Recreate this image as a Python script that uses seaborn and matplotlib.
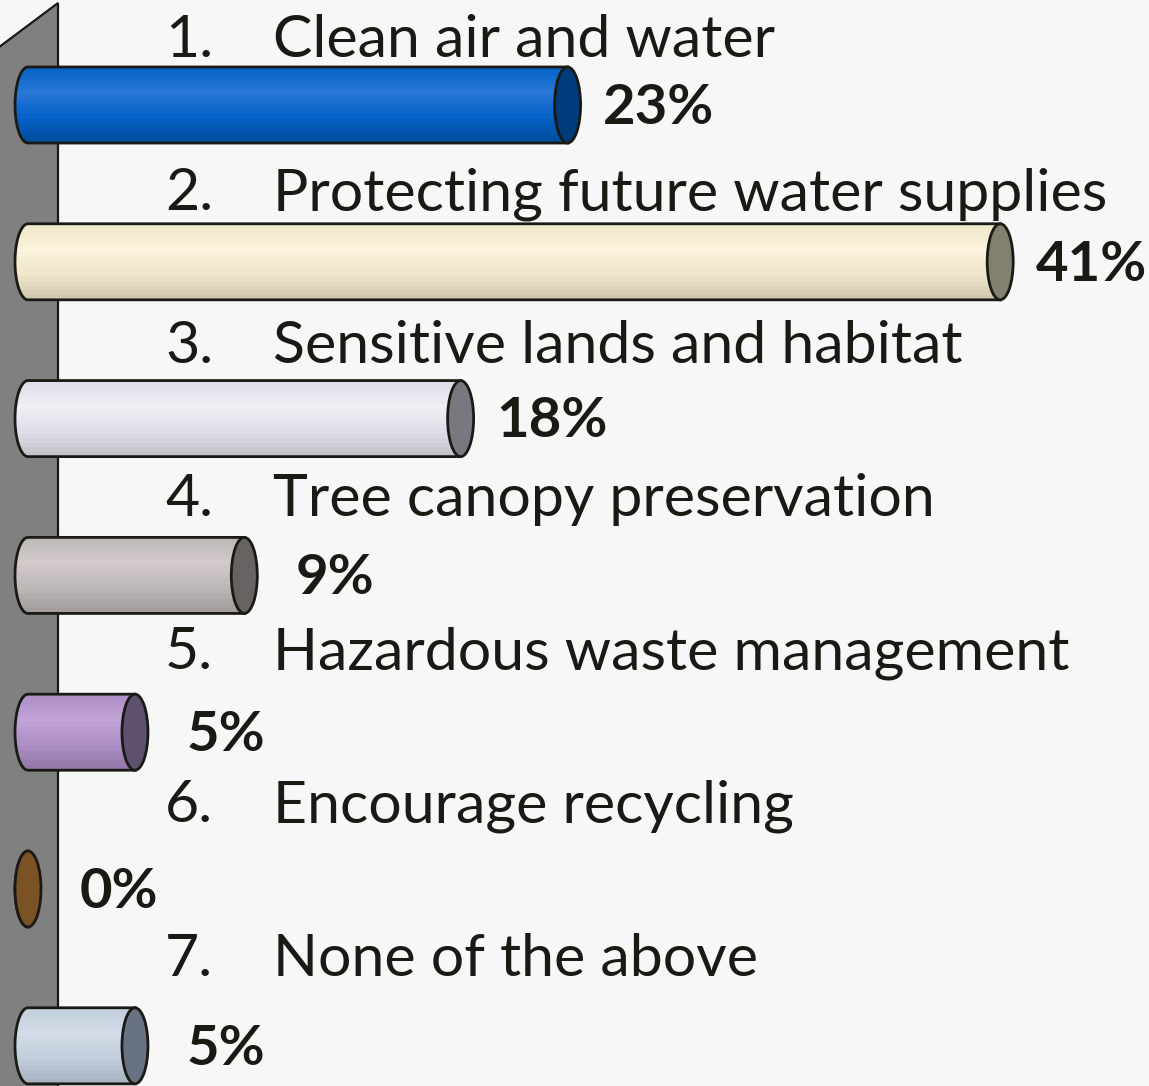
import numpy as np
import pandas as pd
import matplotlib
matplotlib.use("Agg")
import matplotlib.pyplot as plt
import matplotlib.transforms as mtransforms
from matplotlib.colors import LinearSegmentedColormap
from matplotlib.patches import Ellipse, Polygon, PathPatch
from matplotlib.path import Path
import seaborn as sns

# data: share of 22 votes per topic
categories = ["Clean air and water", "Protecting future water supplies",
              "Sensitive lands and habitat", "Tree canopy preservation",
              "Hazardous waste management", "Encourage recycling",
              "None of the above"]
shares = [22.7, 40.9, 18.2, 9.1, 4.5, 0.0, 4.5]
pct_labels = ["23%", "41%", "18%", "9%", "5%", "0%", "5%"]

# cylinder colours: highlight, body, shadow, end cap
light_colors = ["#2a78d6", "#fbf3dc", "#f0edf5", "#d2cacb", "#c2a3d8", "#8a5e2c", "#d3dce8"]
body_colors = ["#0563c9", "#efe6cb", "#e2dee9", "#bfb8b8", "#ae90c6", "#7a5224", "#c3cfdd"]
dark_colors = ["#004e9e", "#d2c8ae", "#c6c2cc", "#a59e9e", "#9479aa", "#5e3e18", "#a8b4c2"]
cap_colors = ["#003b7c", "#848070", "#7b7780", "#686262", "#5f5070", "#7a5224", "#687281"]

sns.set_theme(style="white")
plt.rcParams['font.family'] = ['Lato', 'DejaVu Sans']

BG = "#f7f7f7"
INK = "#1a1a14"
fig = plt.figure(figsize=(11.49, 10.86), dpi=100, facecolor=BG)
ax = fig.add_axes([0, 0, 1, 1])
ax.set_facecolor(BG)

df = pd.DataFrame({"topic": categories, "share": shares})
sns.barplot(data=df, x="share", y="topic", orient="h", width=0.485,
            color="white", linewidth=0, ax=ax)
bars = list(ax.patches)

# the grey side wall
wall = Polygon([(-0.01, 1 - 55 / 1086), (58 / 1149, 1 - 3 / 1086),
                (58 / 1149, -0.01), (-0.01, -0.01)],
               closed=True, transform=ax.transAxes, facecolor="#808080",
               edgecolor=INK, lw=1.6, zorder=0.5)
ax.add_patch(wall)

px = 1 / 23.77          # data units per pixel along x
rx = 13 * px            # half width of the end ellipses

for i, p in enumerate(bars):
    w, y0, h = p.get_width(), p.get_y(), p.get_height()
    p.set_visible(False)
    yc = y0 + h / 2
    t = np.linspace(0, np.pi, 40)
    verts = [(w, y0), (0, y0)]
    verts += list(zip(-rx * np.sin(t), yc - (h / 2) * np.cos(t)))
    verts += [(w, y0 + h), (w, y0)]
    body = PathPatch(Path(verts, closed=True), facecolor="none",
                     edgecolor=INK, lw=2, zorder=3)
    ax.add_patch(body)
    cmap = LinearSegmentedColormap.from_list(
        f"cyl{i}", [body_colors[i], light_colors[i], body_colors[i], dark_colors[i]])
    grad = np.linspace(0, 1, 16)[:, None]
    im = ax.imshow(grad, extent=(-rx, w + rx, y0 + h, y0), aspect="auto",
                   cmap=cmap, interpolation="nearest", zorder=2)
    im.set_clip_path(body)
    cap = Ellipse((w, yc), width=2 * rx, height=h, facecolor=cap_colors[i],
                  edgecolor=INK, lw=2, zorder=4)
    ax.add_patch(cap)
    ax.annotate(pct_labels[i], xy=(w, yc), xytext=(65.5, -13.5),
                textcoords="offset points", ha="center", va="baseline",
                fontsize=40.5, fontweight="bold", color=INK, zorder=5)

# category captions sit in their own text block above each bar
trans = mtransforms.blended_transform_factory(ax.transAxes, ax.transData)
for i, name in enumerate(categories):
    yb = (57 + 153.1 * i - 105) / 156.8
    ax.text(165 / 1149, yb, f"{i + 1}.", transform=trans, ha="left",
            va="baseline", fontsize=42.5, color=INK)
    ax.text(273 / 1149, yb, name, transform=trans, ha="left",
            va="baseline", fontsize=42.5, color=INK)

ax.set_xlim(-28 * px, (1149 - 28) * px)
ax.set_ylim((1086 - 105) / 156.8, -105 / 156.8)
ax.axis("off")

fig.savefig("out.png", dpi=100, facecolor=BG)
